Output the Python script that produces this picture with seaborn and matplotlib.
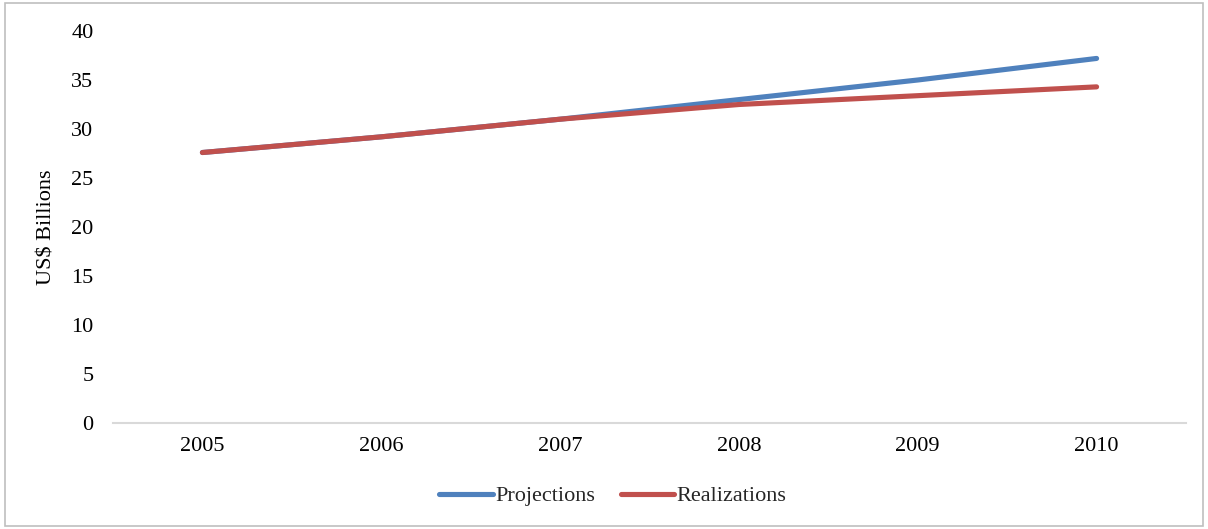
import matplotlib
matplotlib.use("Agg")
import matplotlib.pyplot as plt
import matplotlib.patches as mpatches
import pandas as pd
import seaborn as sns

# Yearly values, US$ billions
years = ["2005", "2006", "2007", "2008", "2009", "2010"]
projections = [27.6, 29.2, 31.0, 33.0, 35.0, 37.2]
realizations = [27.6, 29.2, 31.0, 32.5, 33.4, 34.3]
series_names = ["Projections", "Realizations"]
series_colors = ["#4F81BD", "#C0504D"]
y_ticks = [0, 5, 10, 15, 20, 25, 30, 35, 40]

df = pd.DataFrame({
    "Year": years * 2,
    "Value": projections + realizations,
    "Series": [series_names[0]] * len(years) + [series_names[1]] * len(years),
})

sns.set_theme(style="white")
plt.rcParams["font.family"] = ["Liberation Serif", "DejaVu Serif"]

FS = 16
W, H = 1208, 529
fig = plt.figure(figsize=(W / 100, H / 100), dpi=100)
ax = fig.add_axes([113 / W, 1 - 423 / H, (1186 - 113) / W, (423 - 31) / H])

sns.lineplot(data=df, x="Year", y="Value", hue="Series", hue_order=series_names,
             palette=series_colors, linewidth=3.7, sort=False, ax=ax,
             solid_capstyle="round", legend=False)

ax.set_xlim(-0.5, len(years) - 0.5)
ax.set_ylim(0, 40)
ax.set_yticks(y_ticks)
ax.set_xlabel("")
ax.set_ylabel("US$ Billions", fontsize=FS, color="black")
ax.yaxis.set_label_coords(-0.053, 0.5)

for side in ["top", "right", "left"]:
    ax.spines[side].set_visible(False)
ax.spines["bottom"].set_color("#D9D9D9")
ax.spines["bottom"].set_linewidth(1.5)
ax.tick_params(axis="y", length=0, pad=14, labelsize=FS, labelcolor="black")
ax.tick_params(axis="x", length=0, pad=10, labelsize=FS, labelcolor="black")
ax.grid(False)

handles = [plt.Line2D([], [], color=c, linewidth=3.7, solid_capstyle="round")
           for c in series_colors]
fig.legend(handles, series_names, loc="center", bbox_to_anchor=(613 / W, 1 - 496 / H),
           ncol=2, frameon=False, fontsize=FS, handlelength=2.4,
           handletextpad=0.12, columnspacing=1.15)

# Light outer frame around the chart area
fig.patches.append(mpatches.Rectangle((5 / W, 3 / H), (W - 10) / W, (H - 6) / H,
                                      transform=fig.transFigure, fill=False,
                                      edgecolor="#BFBFBF", linewidth=1.2))

fig.savefig("out.png", dpi=100)
